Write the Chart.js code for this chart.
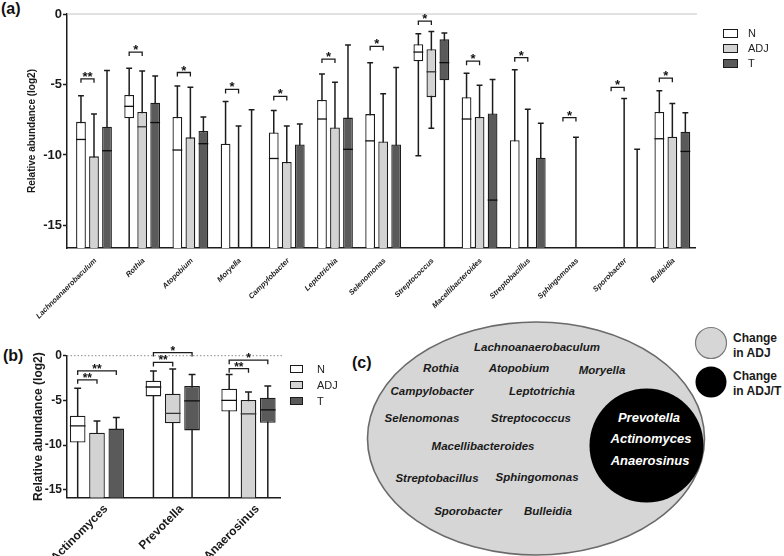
<!DOCTYPE html>
<html>
<head>
<meta charset="utf-8">
<script src="https://cdn.jsdelivr.net/npm/chart.js@4.4.0/dist/chart.umd.min.js"></script>
<style>
  html, body { margin: 0; padding: 0; background: #fff; }
  body { width: 784px; height: 556px; position: relative; overflow: hidden;
         font-family: "Liberation Sans", Arial, Helvetica, sans-serif; color: #1a1a1a; }
  #venn { position: absolute; left: 0; top: 0; }
  .wrap { position: absolute; }
  #wa { left: 0; top: 0; width: 784px; height: 335px; }
  #wb { left: 0; top: 330px; width: 290px; height: 226px; }
  .panel { position: absolute; font-weight: bold; font-size: 16px; color: #111; line-height: 1; }
  .legrow { position: absolute; display: flex; align-items: center; height: 12px;
            font-size: 11px; color: #222; line-height: 12px; }
  .sw { box-sizing: border-box; border: 1.3px solid #1a1a1a; }
</style>
</head>
<body>
<svg id="venn" width="784" height="556" xmlns="http://www.w3.org/2000/svg"></svg>
<div class="panel" style="left:1px; top:1px;">(a)</div>
<div class="panel" style="left:3px; top:348px;">(b)</div>
<div class="panel" style="left:352px; top:355px;">(c)</div>
<div class="wrap" id="wa"><canvas id="ca"></canvas></div>
<div class="wrap" id="wb"><canvas id="cb"></canvas></div>
<div id="legA"></div>
<div id="legB"></div>
<script>
// ---------------- DATA ----------------
const ND = -20; // not detected: log2 value below the plotted range
const groups = ['N', 'ADJ', 'T'];

// Panel (a)
const genusA = ['Lachnoanaerobaculum', 'Rothia', 'Atopobium', 'Moryella', 'Campylobacter', 'Leptotrichia',
  'Selenomonas', 'Streptococcus', 'Macellibacteroides', 'Streptobacillus', 'Sphingomonas', 'Sporobacter', 'Bulleidia'];
const yTicksA = [-15, -10, -5, 0];

const nMaxA = [-5.8, -3.85, -5.1, -6.2, -6.85, -4.25, -3.45, -1.4, -4.2, -3.95, null, null, -5.45];
const nQ3A  = [-7.65, -5.75, -7.3, -9.2, -8.4, -6.1, -7.1, -2.15, -5.9, -8.95, null, null, -6.95];
const nMedA = [-8.9, -6.55, -9.65, null, -10.25, -7.45, -9.0, -2.7, -7.45, null, null, null, -8.85];
const nQ1A  = [ND, -7.4, ND, ND, ND, ND, ND, -3.35, ND, ND, null, null, ND];
const nMinA = [ND, ND, ND, ND, ND, ND, ND, -10.05, ND, ND, null, null, ND];

const aMaxA = [-7.1, -4.05, -5.2, -7.95, -7.95, -4.85, -5.65, -1.25, -5.05, -6.75, -8.75, -6.0, -6.35];
const aQ3A  = [-10.1, -6.95, -8.75, null, -10.5, -8.05, -9.05, -2.5, -7.3, null, null, null, -8.7];
const aMedA = [null, -8.0, null, null, null, null, null, -4.1, null, null, null, null, null];
const aQ1A  = [ND, ND, ND, null, ND, ND, ND, -5.9, ND, null, null, null, ND];
const aMinA = [ND, ND, ND, ND, ND, ND, ND, -8.1, ND, ND, ND, ND, ND];

const tMaxA = [-4.0, -4.4, -7.3, -6.8, -7.8, -2.2, -3.8, -1.35, -4.65, -7.75, null, -9.6, -7.0];
const tQ3A  = [-8.0, -6.3, -8.3, null, -9.25, -7.35, -9.25, -1.8, -7.05, -10.2, null, null, -8.35];
const tMedA = [-9.7, -7.7, -9.2, null, null, -9.6, null, -3.45, -13.2, null, null, null, -9.75];
const tQ1A  = [ND, ND, ND, null, ND, ND, ND, -4.7, ND, ND, null, null, ND];
const tMinA = [ND, ND, ND, ND, ND, ND, ND, ND, ND, ND, null, ND, ND];

const sigA  = ['**', '*', '*', '*', '*', '*', '*', '*', '*', '*', '*', '*', '*'];   // N vs ADJ
const sigYA = [-4.6, -2.7, -4.15, -5.35, -5.85, -3.2, -2.3, -0.5, -3.35, -3.1, -7.35, -5.2, -4.55];

// Panel (b)
const genusB = ['Actinomyces', 'Prevotella', 'Anaerosinus'];
const yTicksB = [-15, -10, -5, 0];

const nMaxB = [-3.65, -1.7, -2.1];
const nQ3B  = [-6.7, -2.8, -3.7];
const nMedB = [-7.85, -3.5, -5.0];
const nQ1B  = [-9.7, -4.55, -6.25];
const nMinB = [ND, ND, ND];

const aMaxB = [-7.3, -1.5, -4.05];
const aQ3B  = [-8.6, -4.25, -4.95];
const aMedB = [null, -6.45, -6.5];
const aQ1B  = [ND, -7.55, ND];
const aMinB = [ND, ND, ND];

const tMaxB = [-6.9, -2.1, -3.4];
const tQ3B  = [-8.15, -3.4, -4.7];
const tMedB = [null, -5.05, -6.05];
const tQ1B  = [ND, -8.35, -7.5];
const tMinB = [ND, ND, ND];

const sigAdjB  = ['**', '**', '**'];   // N vs ADJ
const sigAdjYB = [-2.7, -0.75, -1.45];
const sigTB    = ['**', '*', '*'];     // N vs T
const sigTYB   = [-1.7, 0.35, -0.5];

// Panel (c)
const vennAdjOnly = ['Lachnoanaerobaculum', 'Rothia', 'Atopobium', 'Moryella', 'Campylobacter', 'Leptotrichia',
  'Selenomonas', 'Streptococcus', 'Macellibacteroides', 'Streptobacillus', 'Sphingomonas', 'Sporobacter', 'Bulleidia'];
const vennBoth = ['Prevotella', 'Actinomyces', 'Anaerosinus'];
const vennLegend = [['Change', 'in ADJ'], ['Change', 'in ADJ/T']];

// ---------------- STYLE / LAYOUT ----------------
const FONT = '"Liberation Sans", Arial, Helvetica, sans-serif';
const FILL = ['#ffffff', '#d3d3d3', '#5a5a5a'];
const MEDIAN = ['#111111', '#333333', '#0d0d0d'];
const EDGE = '#1c1c1c';
Chart.defaults.font.family = FONT;

const statsA = [
  { max: nMaxA, q3: nQ3A, med: nMedA, q1: nQ1A, min: nMinA },
  { max: aMaxA, q3: aQ3A, med: aMedA, q1: aQ1A, min: aMinA },
  { max: tMaxA, q3: tQ3A, med: tMedA, q1: tQ1A, min: tMinA }
];
const statsB = [
  { max: nMaxB, q3: nQ3B, med: nMedB, q1: nQ1B, min: nMinB },
  { max: aMaxB, q3: aQ3B, med: aMedB, q1: aQ1B, min: aMinB },
  { max: tMaxB, q3: tQ3B, med: tMedB, q1: tQ1B, min: tMinB }
];
const bracketsA = [{ from: 0, to: 1, labels: sigA, y: sigYA }];
const bracketsB = [{ from: 0, to: 1, labels: sigAdjB, y: sigAdjYB }, { from: 0, to: 2, labels: sigTB, y: sigTYB }];

function toBoxes(q1, q3) {
  return q3.map((v, i) => (v == null || q1[i] == null) ? null : [q1[i], v]);
}
function el(chart, di, i) { return chart.getDatasetMeta(di).data[i]; }

function boxPlot(stats, brackets, look) {
  return {
    id: 'boxplot',
    beforeDatasetsDraw(chart) {
      const { ctx, chartArea: a, scales: { y } } = chart;
      const y0 = y.getPixelForValue(0);
      ctx.save();
      ctx.strokeStyle = look.zeroColor; ctx.lineWidth = 1; ctx.setLineDash(look.zeroDash);
      ctx.beginPath(); ctx.moveTo(a.left, y0); ctx.lineTo(a.right + look.zeroExtra, y0); ctx.stroke();
      ctx.setLineDash([]);
      ctx.beginPath(); ctx.rect(a.left, a.top - 10, a.width, a.height + 10); ctx.clip();
      ctx.strokeStyle = EDGE; ctx.lineWidth = 1.5;
      stats.forEach((s, di) => {
        s.max.forEach((mx, i) => {
          if (mx == null) return;
          const e = el(chart, di, i);
          const cx = e.x, half = e.width * look.cap;
          const top = y.getPixelForValue(mx);
          const lo = s.min[i] == null ? ND : s.min[i];
          const bot = y.getPixelForValue(lo);
          ctx.beginPath();
          ctx.moveTo(cx, top); ctx.lineTo(cx, bot);
          ctx.moveTo(cx - half, top); ctx.lineTo(cx + half, top);
          if (lo > y.min) { ctx.moveTo(cx - half, bot); ctx.lineTo(cx + half, bot); }
          ctx.stroke();
        });
      });
      ctx.restore();
    },
    afterDatasetsDraw(chart) {
      const { ctx, chartArea: a, scales: { y } } = chart;
      ctx.save();
      ctx.beginPath(); ctx.rect(a.left, a.top, a.width, a.height); ctx.clip();
      ctx.lineWidth = 1.3;
      stats.forEach((s, di) => {
        ctx.strokeStyle = MEDIAN[di];
        s.med.forEach((m, i) => {
          if (m == null) return;
          const e = el(chart, di, i);
          const py = y.getPixelForValue(m);
          ctx.beginPath(); ctx.moveTo(e.x - e.width / 2, py); ctx.lineTo(e.x + e.width / 2, py); ctx.stroke();
        });
      });
      ctx.restore();
    },
    afterDraw(chart) {
      const { ctx, chartArea: a, scales: { x, y } } = chart;
      ctx.save();
      // rotated category labels, placed at the category scale's pixels
      ctx.fillStyle = '#1a1a1a'; ctx.font = look.labelFont;
      ctx.textAlign = 'right'; ctx.textBaseline = 'middle';
      chart.data.labels.forEach((lab, i) => {
        const px = x.getPixelForValue(i);
        ctx.save();
        ctx.translate(px + look.labelDx, a.bottom + look.labelDy);
        ctx.rotate(-Math.PI / 4);
        ctx.fillText(lab, 0, 0);
        ctx.restore();
      });
      // significance brackets
      ctx.strokeStyle = EDGE; ctx.fillStyle = '#111'; ctx.lineWidth = 1.3;
      ctx.font = look.starFont; ctx.textAlign = 'center'; ctx.textBaseline = 'alphabetic';
      brackets.forEach(b => {
        b.labels.forEach((lab, i) => {
          if (!lab) return;
          const x1 = el(chart, b.from, i).x, x2 = el(chart, b.to, i).x;
          const py = y.getPixelForValue(b.y[i]);
          ctx.beginPath();
          ctx.moveTo(x1, py + look.tick); ctx.lineTo(x1, py); ctx.lineTo(x2, py); ctx.lineTo(x2, py + look.tick);
          ctx.stroke();
          ctx.fillText(lab, (x1 + x2) / 2, py + look.starDy);
        });
      });
      ctx.restore();
    }
  };
}

function makeBoxChart(id, labels, stats, brackets, yTicks, cfg) {
  return new Chart(document.getElementById(id), {
    type: 'bar',
    data: {
      labels: labels,
      datasets: groups.map((g, k) => ({
        label: g,
        data: toBoxes(stats[k].q1, stats[k].q3),
        backgroundColor: FILL[k],
        borderColor: EDGE,
        borderWidth: 1.3,
        borderSkipped: false,
        clip: 0,
        categoryPercentage: cfg.catPct,
        barPercentage: cfg.barPct
      }))
    },
    options: {
      responsive: true, maintainAspectRatio: false, animation: false, events: [],
      layout: { padding: cfg.padding },
      plugins: { legend: { display: false }, tooltip: { enabled: false } },
      scales: {
        x: {
          grid: { display: false, drawTicks: false },
          border: { display: true, color: EDGE, width: 1.5 },
          ticks: { display: false, autoSkip: false },
          afterFit: s => { s.height = cfg.xHeight; },
          afterBuildTicks: s => { s._startValue = cfg.xStart; s._valueRange = cfg.xRange; }
        },
        y: {
          min: cfg.yMin, max: 0,
          afterBuildTicks: s => { s.ticks = yTicks.map(v => ({ value: v })); },
          grid: { drawOnChartArea: false, drawTicks: true, tickLength: 4, tickColor: EDGE, tickWidth: 1.5 },
          border: { display: true, color: EDGE, width: 1.5 },
          ticks: { padding: 1, color: '#1a1a1a', font: { size: cfg.yTickSize, weight: 'bold' } },
          title: { display: true, text: 'Relative abundance (log2)', color: '#1a1a1a',
                   font: { size: cfg.titleSize, weight: 'bold' }, padding: { top: cfg.titlePad, bottom: 0 } },
          afterFit: s => { s.width = 67; }
        }
      }
    },
    plugins: [boxPlot(stats, brackets, cfg.look)]
  });
}

makeBoxChart('ca', genusA, statsA, bracketsA, yTicksA, {
  catPct: 0.81, barPct: 0.75,
  padding: { left: 0, top: 14, right: 89, bottom: 0 },
  xHeight: 87, xStart: -0.56, xRange: 13.03,
  yMin: -16.6, yTickSize: 13, titleSize: 10, titlePad: 26,
  look: { zeroColor: '#c4c4c4', zeroDash: [], zeroExtra: 2, cap: 0.3, starFont: 'bold 13px ' + FONT, tick: 4, starDy: 2,
          labelFont: 'italic bold 7.5px ' + FONT, labelDx: 1.5, labelDy: 11.5 }
});

makeBoxChart('cb', genusB, statsB, bracketsB, yTicksB, {
  catPct: 0.765, barPct: 0.81,
  padding: { left: 0, top: 25.7, right: 10, bottom: 0 },
  xHeight: 58.5, xStart: -0.396, xRange: 2.812,
  yMin: -15.85, yTickSize: 12, titleSize: 12, titlePad: 31.5,
  look: { zeroColor: '#8a8a8a', zeroDash: [1.5, 2], zeroExtra: 2, cap: 0.22, starFont: 'bold 12px ' + FONT, tick: 4, starDy: 2,
          labelFont: 'bold 12px ' + FONT, labelDx: 9, labelDy: 9.5 }
});

// ---------------- LEGENDS ----------------
function buildLegend(hostId, left, centers, sw, gap) {
  const host = document.getElementById(hostId);
  groups.forEach((g, k) => {
    const row = document.createElement('div');
    row.className = 'legrow';
    row.style.left = left + 'px';
    row.style.top = (centers[k] - 6) + 'px';
    const box = document.createElement('div');
    box.className = 'sw';
    box.style.width = sw[0] + 'px'; box.style.height = sw[1] + 'px';
    box.style.background = FILL[k]; box.style.marginRight = gap + 'px';
    const t = document.createElement('span'); t.textContent = g;
    row.appendChild(box); row.appendChild(t); host.appendChild(row);
  });
}
buildLegend('legA', 723, [33, 48, 63], [15, 9], 10);
buildLegend('legB', 290, [369, 385, 401], [13, 8], 14);

// ---------------- PANEL (c) ----------------
const NS = 'http://www.w3.org/2000/svg';
const svg = document.getElementById('venn');
function add(tag, attrs, text) {
  const n = document.createElementNS(NS, tag);
  for (const k in attrs) n.setAttribute(k, attrs[k]);
  if (text != null) n.textContent = text;
  svg.appendChild(n); return n;
}
add('ellipse', { cx: 536, cy: 438.5, rx: 168.5, ry: 116.5, fill: '#d6d6d6', stroke: '#6a6a6a', 'stroke-width': 1.6 });
add('circle', { cx: 646.5, cy: 445.5, r: 57, fill: '#000' });
const adjPos = [[537, 347], [441, 368], [519, 368], [602, 370], [432, 391], [542, 391], [422, 418],
  [531, 418], [483, 446], [437, 478], [537, 477], [468, 511], [548, 511]];
vennAdjOnly.forEach((name, i) => {
  add('text', { x: adjPos[i][0], y: adjPos[i][1], 'text-anchor': 'middle', 'dominant-baseline': 'central',
    'font-family': FONT, 'font-size': 11.5, 'font-weight': 'bold', 'font-style': 'italic', fill: '#1a1a1a' }, name);
});
const bothPos = [[649, 417], [651, 438], [650, 460]];
vennBoth.forEach((name, i) => {
  add('text', { x: bothPos[i][0], y: bothPos[i][1], 'text-anchor': 'middle', 'dominant-baseline': 'central',
    'font-family': FONT, 'font-size': 13, 'font-weight': 'bold', 'font-style': 'italic', fill: '#ffffff' }, name);
});
add('circle', { cx: 711, cy: 343, r: 15.5, fill: '#d6d6d6', stroke: '#7a7a7a', 'stroke-width': 1.2 });
add('circle', { cx: 711, cy: 382, r: 15.5, fill: '#000' });
const legY = [[338, 353], [376, 391]];
vennLegend.forEach((lines, k) => {
  lines.forEach((ln, j) => {
    add('text', { x: 733, y: legY[k][j], 'dominant-baseline': 'central', 'font-family': FONT,
      'font-size': 12, 'font-weight': 'bold', fill: '#1a1a1a' }, ln);
  });
});
</script>
</body>
</html>
